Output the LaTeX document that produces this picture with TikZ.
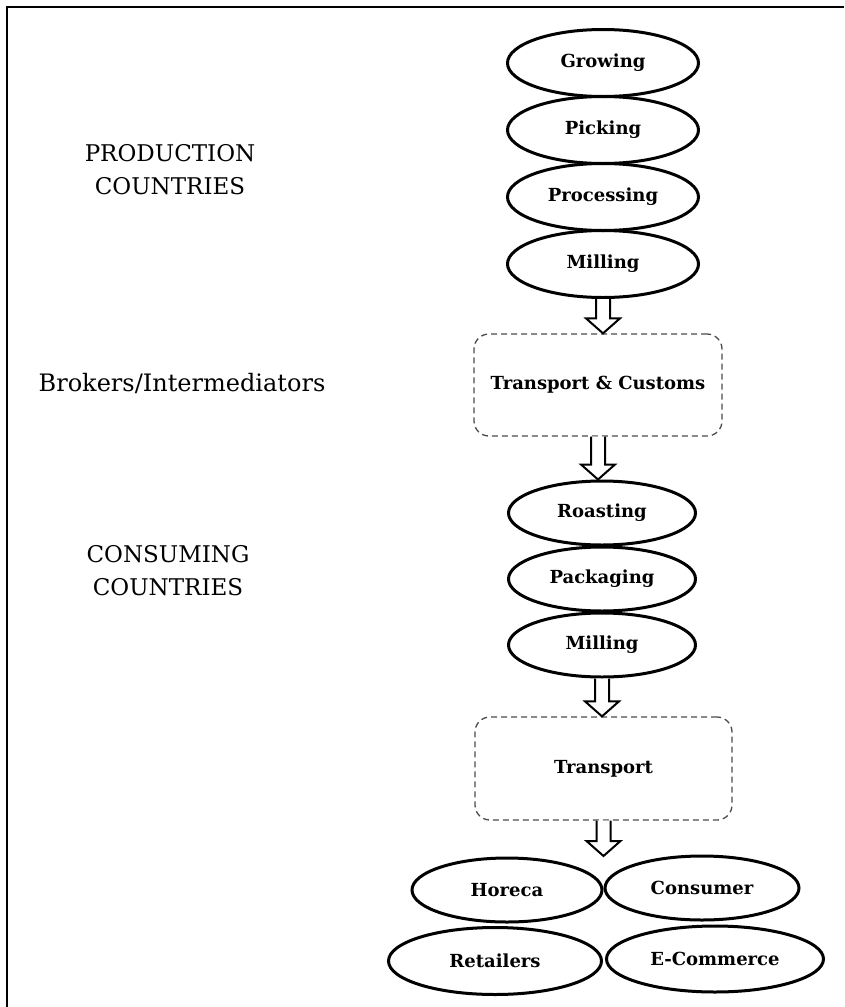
\documentclass[tikz,border=0pt]{standalone}
\usepackage{fontspec}
\setmainfont{DejaVu Serif}
\usetikzlibrary{shapes.geometric,calc}

\tikzset{
  stage/.style={ellipse, draw, line width=3pt, inner sep=0pt,
    font=\bfseries\fontsize{18}{20}\selectfont},
  hub/.style={rectangle, rounded corners=15pt, draw=black!70,
    dash pattern=on 6pt off 4pt, line width=1.3pt, inner sep=0pt,
    font=\bfseries\fontsize{18}{20}\selectfont},
  harrow/.style={draw, line width=2pt, fill=white, line join=miter},
  side/.style={align=center, font=\fontsize{23}{33}\selectfont},
  frame/.style={line width=2pt}
}

% hollow block arrow from the bottom of one node to a target point
\newcommand\blockarrow[2]{%
  \path[harrow] let \p1=(#1.south), \p2=(#2) in
    (\x1-7pt,\y1) -- (\x1-7pt,\y2+15pt) -- (\x1-17pt,\y2+15pt) -- (\x1,\y2)
    -- (\x1+17pt,\y2+15pt) -- (\x1+7pt,\y2+15pt) -- (\x1+7pt,\y1);}

\begin{document}
\begin{tikzpicture}[x=1pt, y=-1pt]
\useasboundingbox (0,0) rectangle (844,1007);

% outer frame
\draw[frame] (7,1007) -- (7,7) -- (844,7);

% side labels
\node[side] (prodlbl) at (170,170) {PRODUCTION\\COUNTRIES};
\node[font=\fontsize{24}{28}\selectfont] (brokerlbl) at (182,383) {Brokers/Intermediators};
\node[side] (conslbl) at (168,571) {CONSUMING\\COUNTRIES};

% production stages
\node[stage, minimum width=191pt, minimum height=67pt] (grow) at (603,63) {Growing};
\node[stage, minimum width=191pt, minimum height=67pt] (pick) at (603,130) {Picking};
\node[stage, minimum width=191pt, minimum height=67pt] (proc) at (603,197) {Processing};
\node[stage, minimum width=191pt, minimum height=67pt] (mill) at (603,264) {Milling};

% brokers
\node[hub, minimum width=248pt, minimum height=102pt] (customs) at (598,385) {Transport \& Customs};

% consuming stages
\node[stage, minimum width=187pt, minimum height=64pt] (roast) at (602,513) {Roasting};
\node[stage, minimum width=187pt, minimum height=64pt] (pack) at (602,579) {Packaging};
\node[stage, minimum width=187pt, minimum height=64pt] (mill2) at (602,645) {Milling};

% distribution
\node[hub, minimum width=257pt, minimum height=103pt] (transport) at (603.5,768.5) {Transport};

% outlets
\coordinate (split) at (603,856);
\node[stage, minimum width=190pt, minimum height=64pt] (horeca) at (507,890) {Horeca};
\node[stage, minimum width=194pt, minimum height=64pt] (consumer) at (702,888) {Consumer};
\node[stage, minimum width=213pt, minimum height=67pt] (retail) at (495,961) {Retailers};
\node[stage, minimum width=217pt, minimum height=66pt] (ecom) at (715,959) {E-Commerce};

% flow arrows
\blockarrow{mill}{customs.north}
\blockarrow{customs}{roast.north}
\blockarrow{mill2}{transport.north}
\blockarrow{transport}{split}
\end{tikzpicture}
\end{document}
